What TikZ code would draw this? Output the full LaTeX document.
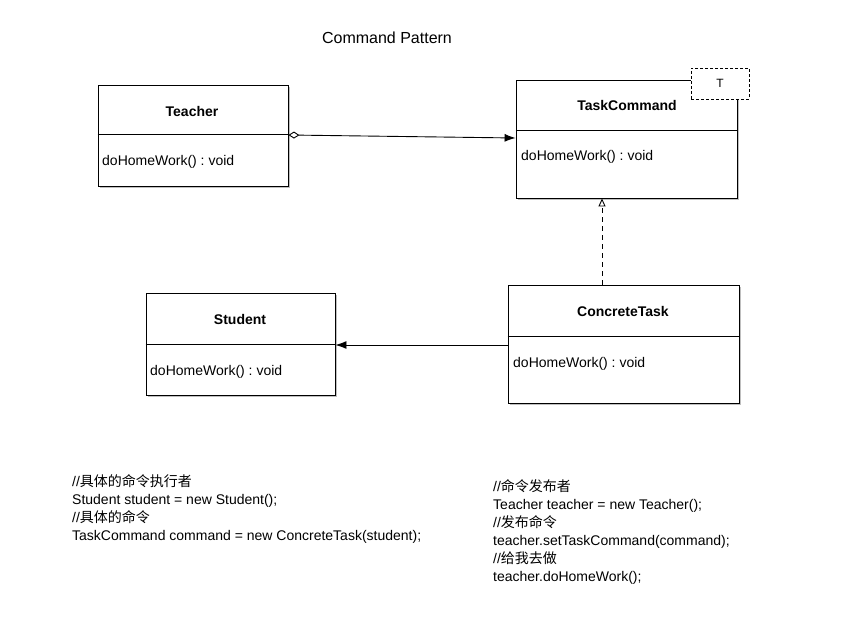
\documentclass[tikz,border=0pt]{standalone}
\usepackage{fontspec}
\setmainfont{Liberation Sans}
\newfontfamily\cjk{Noto Sans CJK SC}
\usetikzlibrary{arrows.meta}
\frenchspacing
\tikzset{
  umlbox/.style={draw=black, line width=0.9pt, fill=white, rectangle, inner sep=0pt},
  shadowbox/.style={fill=black!25, draw=none},
  divider/.style={line width=0.9pt},
  cls/.style={font=\fontsize{14}{17}\selectfont\bfseries, anchor=base, inner sep=0pt},
  meth/.style={font=\fontsize{14}{17}\selectfont, anchor=base west, inner sep=0pt},
  code/.style={font=\fontsize{14}{17}\selectfont, anchor=base west, inner sep=0pt},
  conn/.style={line width=0.9pt},
}
\begin{document}
\begin{tikzpicture}[x=1pt,y=-1pt]
\useasboundingbox (0,0) rectangle (849,644);
\fill[white] (0,0) rectangle (849,644);

% title
\node[font=\fontsize{16}{19}\selectfont, anchor=base, inner sep=0pt] (title) at (387,44) {Command Pattern};

% shadows
\fill[shadowbox] (100,87) rectangle (290,188);
\fill[shadowbox] (518,82) rectangle (739,200);
\fill[shadowbox] (148,295) rectangle (337,397);
\fill[shadowbox] (510,287) rectangle (741,405);

% boxes
\node[umlbox, minimum width=190pt, minimum height=101pt] (teacher) at (193,135.5) {};
\node[umlbox, minimum width=221pt, minimum height=118pt] (task) at (626.5,139) {};
\node[umlbox, minimum width=189pt, minimum height=102pt] (student) at (240.5,344) {};
\node[umlbox, minimum width=231pt, minimum height=118pt] (concrete) at (623.5,344) {};

% dividers
\draw[divider] (teacher.west |- 0,134) -- (teacher.east |- 0,134);
\draw[divider] (task.west |- 0,130) -- (task.east |- 0,130);
\draw[divider] (student.west |- 0,344) -- (student.east |- 0,344);
\draw[divider] (concrete.west |- 0,336) -- (concrete.east |- 0,336);

% class names
\node[cls] (teachername) at (192,117) {Teacher};
\node[cls] (taskname) at (627,111) {TaskCommand};
\node[cls] (studentname) at (240,325) {Student};
\node[cls] (concretename) at (623,317) {ConcreteTask};

% methods
\node[meth] (teachermeth) at (102,166) {doHomeWork() : void};
\node[meth] (taskmeth) at (521,161) {doHomeWork() : void};
\node[meth] (studentmeth) at (150,375) {doHomeWork() : void};
\node[meth] (concretemeth) at (513,367) {doHomeWork() : void};

% template parameter
\node[draw=black, dashed, dash pattern=on 3pt off 2pt, line width=0.8pt, fill=white, minimum width=58pt, minimum height=31pt, inner sep=0pt, font=\fontsize{12}{14}\selectfont] (tparam) at (720,83.5) {T};

% connectors
\coordinate (aggstart) at (teacher.east |- 0,135);
\coordinate (aggend) at (task.west |- 0,138);
\draw[conn, {Diamond[open, length=11pt, width=7pt]}-{Latex[length=11pt, width=8pt]}] (aggstart) -- (aggend);

\coordinate (depstart) at (concrete.west |- 0,345);
\coordinate (depend) at (student.east |- 0,345);
\draw[conn, -{Latex[length=11pt, width=8pt]}] (depstart) -- (depend);

\coordinate (realstart) at (concrete.north -| 602,0);
\coordinate (realend) at (task.south -| 602,0);
\draw[conn, dash pattern=on 5pt off 4pt, -{Triangle[open, length=8pt, width=7pt]}] (realstart) -- (realend);

% code left
\node[code] (l1) at (72,486) {//{\cjk 具体的命令执行者}};
\node[code] (l2) at (72,504) {Student student = new Student();};
\node[code] (l3) at (72,522) {//{\cjk 具体的命令}};
\node[code] (l4) at (72,540) {TaskCommand command = new ConcreteTask(student);};

% code right
\node[code] (r1) at (493,491) {//{\cjk 命令发布者}};
\node[code] (r2) at (493,509) {Teacher teacher = new Teacher();};
\node[code] (r3) at (493,527) {//{\cjk 发布命令}};
\node[code] (r4) at (493,545) {teacher.setTaskCommand(command);};
\node[code] (r5) at (493,563) {//{\cjk 给我去做}};
\node[code] (r6) at (493,581) {teacher.doHomeWork();};
\end{tikzpicture}
\end{document}
